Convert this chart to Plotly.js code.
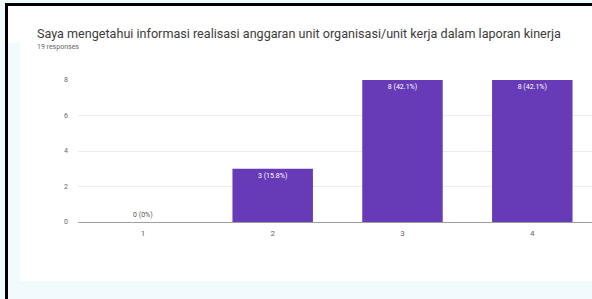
<!DOCTYPE html>
<html><head><meta charset="utf-8">
<script src="https://cdn.plot.ly/plotly-3.0.1.min.js"></script>
<style>
html,body{margin:0;padding:0;width:592px;height:299px;overflow:hidden;background:#f1fbfe;}
#bgw{position:absolute;left:20px;top:5px;width:572px;height:276px;background:#fff;}
#bgw2{position:absolute;left:7px;top:5px;width:14px;height:38px;background:#fff;}
#lt{position:absolute;left:5px;top:3px;width:587px;height:3px;background:#000;}
#ll{position:absolute;left:5px;top:3px;width:3px;height:296px;background:#000;}
#chart{position:absolute;left:0;top:0;width:592px;height:299px;}
</style></head>
<body>
<div id="bgw"></div><div id="bgw2"></div><div id="lt"></div><div id="ll"></div>
<div id="chart"></div>
<script>
const categories = ['1', '2', '3', '4'];
const counts = [0, 3, 8, 8];
const totalResponses = 19;
const yTicks = [0, 2, 4, 6, 8];
const titleText = 'Saya mengetahui informasi realisasi anggaran unit organisasi/unit kerja dalam laporan kinerja';
const subtitleText = totalResponses + ' responses';

const labels = counts.map(v => v + ' (' + (v === 0 ? '0' : (v / totalResponses * 100).toFixed(1)) + '%)');

const L = 78, T = 80, B = 77, W = 592, H = 299;
const pw = W - L, ph = H - T - B;
const px = x => (x - L) / pw;
const py = y => (H - B - y) / ph;

Plotly.newPlot('chart', [{
  type: 'bar',
  x: categories,
  y: counts,
  marker: {color: '#673ab7'},
  text: labels,
  textposition: counts.map(v => v === 0 ? 'outside' : 'inside'),
  insidetextanchor: 'end',
  textfont: {family: 'Roboto, sans-serif', size: 7, color: counts.map(v => v === 0 ? '#555' : '#fff')},
  constraintext: 'none',
  cliponaxis: false,
  hoverinfo: 'none'
}], {
  width: W, height: H,
  margin: {l: L, r: 0, t: T, b: B, pad: 0},
  paper_bgcolor: 'rgba(0,0,0,0)',
  plot_bgcolor: 'rgba(0,0,0,0)',
  bargap: 0.38,
  showlegend: false,
  xaxis: {
    type: 'category', range: [-0.5, 3.46],
    showgrid: false, zeroline: false, showline: false,
    ticks: '', tickfont: {family: 'Roboto, sans-serif', size: 8, color: '#666'},
    ticklabelstandoff: 5
  },
  yaxis: {
    range: [0, 8], tickvals: yTicks, ticktext: yTicks.map(String),
    showgrid: true, gridcolor: '#ececec', gridwidth: 1,
    zeroline: true, zerolinecolor: '#9e9e9e', zerolinewidth: 1,
    showline: false, ticks: '',
    tickfont: {family: 'Roboto, sans-serif', size: 7, color: '#666'},
    ticklabelstandoff: 9
  },
  annotations: [
    {text: titleText, xref: 'paper', yref: 'paper', x: px(35), y: py(33),
     xanchor: 'left', yanchor: 'middle', showarrow: false,
     font: {family: 'Roboto, sans-serif', size: 12.6, color: '#3c3c3c'}},
    {text: subtitleText, xref: 'paper', yref: 'paper', x: px(35), y: py(47),
     xanchor: 'left', yanchor: 'middle', showarrow: false,
     font: {family: 'Roboto, sans-serif', size: 7, color: '#666'}}
  ]
}, {displayModeBar: false, staticPlot: true});
</script>
</body></html>
